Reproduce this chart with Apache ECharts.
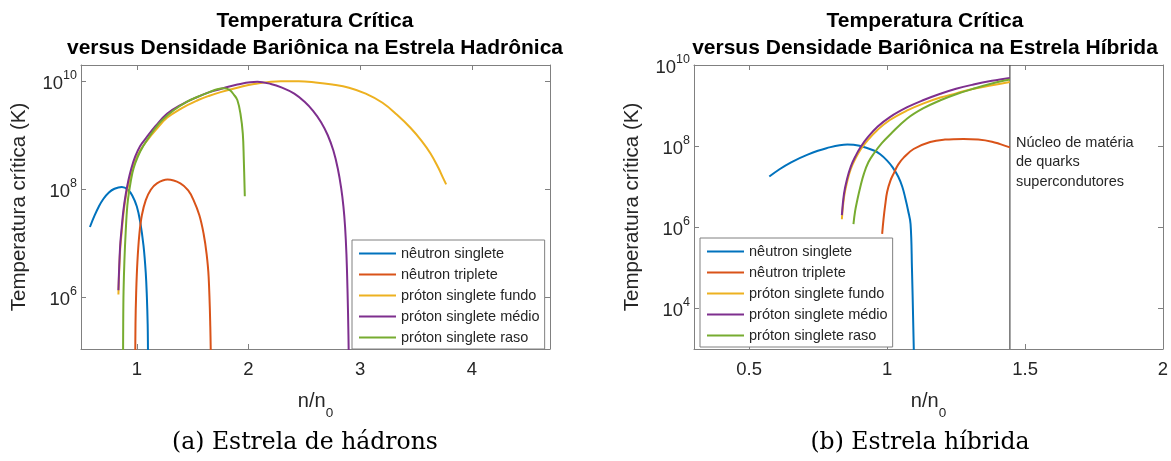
<!DOCTYPE html>
<html>
<head>
<meta charset="utf-8">
<script src="https://cdn.jsdelivr.net/npm/echarts@6/dist/echarts.min.js"></script>
<style>
  html, body { margin: 0; padding: 0; background: #ffffff; }
  #chart { width: 1171px; height: 461px; }
</style>
</head>
<body>
<div id="chart"></div>
<script>
// ---- series names and colours ----
const seriesNames = ['nêutron singlete', 'nêutron triplete', 'próton singlete fundo', 'próton singlete médio', 'próton singlete raso'];
const seriesColors = ['#0072BD', '#D95319', '#EDB120', '#7E2F8E', '#77AC30'];

// ---- hadronic star: [n/n0, Tc (K)] ----
const hadNeutronSinglet = [[0.58,2.0e7],[0.62,3.2e7],[0.66,4.8e7],[0.70,6.6e7],[0.75,8.7e7],[0.80,1.02e8],[0.865,1.10e8],[0.92,9.8e7],[0.96,7.6e7],[1.00,4.8e7],[1.03,2.5e7],[1.06,8.9e6],[1.08,2.8e6],[1.09,1.0e6],[1.097,3.2e5],[1.10,1.0e5],[1.103,3.2e4]];
const hadNeutronTriplet = [[0.985,3.0e4],[0.988,3.2e5],[0.994,1.2e6],[1.005,4.5e6],[1.023,1.5e7],[1.045,3.3e7],[1.08,6.3e7],[1.125,9.8e7],[1.18,1.29e8],[1.275,1.51e8],[1.39,1.29e8],[1.46,9.5e7],[1.508,6.3e7],[1.56,3.3e7],[1.598,1.5e7],[1.625,6.3e6],[1.643,2.4e6],[1.658,2.8e5],[1.665,3.0e4]];
const hadProtonDeep = [[0.835,1.12e6],[0.85,7.1e6],[0.865,1.66e7],[0.88,3.5e7],[0.90,7.1e7],[0.925,1.26e8],[0.95,2.0e8],[0.985,3.3e8],[1.03,5.2e8],[1.09,7.9e8],[1.17,1.26e9],[1.27,2.1e9],[1.40,3.16e9],[1.54,4.4e9],[1.65,5.4e9],[1.75,6.3e9],[1.90,7.6e9],[2.05,8.9e9],[2.29,1.0e10],[2.45,1.0e10],[2.6,9.5e9],[2.75,8.7e9],[2.9,7.6e9],[3.05,5.9e9],[3.2,4.0e9],[3.33,2.4e9],[3.45,1.38e9],[3.55,7.9e8],[3.63,4.6e8],[3.7,2.5e8],[3.74,1.66e8],[3.77,1.23e8]];
const hadProtonMid = [[0.835,1.35e6],[0.85,8.5e6],[0.865,2.0e7],[0.88,4.1e7],[0.90,7.9e7],[0.925,1.48e8],[0.95,2.4e8],[0.985,4.0e8],[1.03,6.3e8],[1.09,9.3e8],[1.17,1.5e9],[1.27,2.5e9],[1.40,3.7e9],[1.54,5.1e9],[1.65,6.3e9],[1.75,7.2e9],[1.90,8.7e9],[2.08,9.8e9],[2.2,8.9e9],[2.3,7.6e9],[2.41,5.9e9],[2.5,4.2e9],[2.58,2.8e9],[2.65,1.74e9],[2.71,1.0e9],[2.76,5.2e8],[2.80,2.4e8],[2.83,1.05e8],[2.85,4.8e7],[2.865,2.0e7],[2.877,6.3e6],[2.887,1.26e6],[2.895,2.0e5],[2.90,3.2e4]];
const hadProtonShallow = [[0.876,3.2e4],[0.878,3.2e5],[0.881,1.26e6],[0.889,4.9e6],[0.90,1.58e7],[0.915,5.0e7],[0.934,1.0e8],[0.96,2.0e8],[0.985,3.0e8],[1.03,5.0e8],[1.09,8.1e8],[1.2,1.66e9],[1.33,2.9e9],[1.45,4.2e9],[1.54,5.1e9],[1.65,6.3e9],[1.72,7.1e9],[1.78,7.4e9],[1.83,6.9e9],[1.87,5.6e9],[1.90,4.5e9],[1.928,2.5e9],[1.949,1.07e9],[1.958,3.5e8],[1.967,7.4e7]];

// ---- hybrid star: [n/n0, Tc (K)] ----
const hybNeutronSinglet = [[0.573,1.78e7],[0.61,2.7e7],[0.652,4.0e7],[0.712,6.2e7],[0.78,8.9e7],[0.856,1.1e8],[0.90,1.02e8],[0.952,7.8e7],[0.975,6.3e7],[1.0,4.4e7],[1.02,3.0e7],[1.04,1.78e7],[1.055,1.0e7],[1.066,5.2e6],[1.076,2.6e6],[1.085,1.2e6],[1.09,1.0e5],[1.097,7.9e2]];
const hybNeutronTriplet = [[0.982,6.9e5],[0.987,1.58e6],[0.993,3.5e6],[1.0,7.4e6],[1.012,1.41e7],[1.025,2.2e7],[1.04,3.5e7],[1.06,5.2e7],[1.096,8.5e7],[1.156,1.26e8],[1.21,1.45e8],[1.277,1.51e8],[1.33,1.45e8],[1.38,1.29e8],[1.41,1.12e8],[1.445,9.3e7]];
const hybProtonDeep = [[0.836,1.58e6],[0.844,5.6e6],[0.855,1.32e7],[0.868,2.7e7],[0.885,4.9e7],[0.904,8.3e7],[0.93,1.41e8],[0.965,2.5e8],[1.01,4.4e8],[1.073,7.6e8],[1.13,1.12e9],[1.193,1.58e9],[1.25,2.0e9],[1.313,2.6e9],[1.38,3.16e9],[1.445,3.8e9]];
const hybProtonMid = [[0.836,2.0e6],[0.844,6.9e6],[0.855,1.58e7],[0.868,3.1e7],[0.885,5.6e7],[0.904,9.5e7],[0.93,1.66e8],[0.965,3.0e8],[1.01,5.2e8],[1.073,9.1e8],[1.13,1.35e9],[1.193,1.95e9],[1.25,2.6e9],[1.313,3.3e9],[1.38,4.07e9],[1.445,4.8e9]];
const hybProtonShallow = [[0.878,1.2e6],[0.884,2.5e6],[0.892,4.7e6],[0.903,1.0e7],[0.916,2.1e7],[0.932,4.0e7],[0.952,6.6e7],[0.98,1.17e8],[1.013,2.0e8],[1.073,4.8e8],[1.13,8.5e8],[1.193,1.35e9],[1.25,1.9e9],[1.313,2.6e9],[1.38,3.5e9],[1.445,4.4e9]];
// boundary of the superconducting quark-matter core
const quarkCoreBoundary = [[1.445,1e3],[1.445,1e10]];

// ---- axis ranges and tick values ----
const hadXRange = [0.5, 4.7];
const hadYRange = [1.1e5, 2e10];
const hybXRange = [0.3, 2];
const hybYRange = [1e3, 1e10];
const hadXTicks = [1, 2, 3, 4];
const hadYTicks = [1e6, 1e8, 1e10];
const hybXTicks = [0.5, 1, 1.5, 2];
const hybYTicks = [1e4, 1e6, 1e8, 1e10];

// ---- texts ----
const titleHad = 'Temperatura Crítica\nversus Densidade Bariônica na Estrela Hadrônica';
const titleHyb = 'Temperatura Crítica\nversus Densidade Bariônica na Estrela Híbrida';
const yName = 'Temperatura crítica (K)';
const captionHad = '(a) Estrela de hádrons';
const captionHyb = '(b) Estrela híbrida';
const coreNote = 'Núcleo de matéria\nde quarks\nsupercondutores';

const FONT = '"Liberation Sans", Arial, Helvetica, sans-serif';
const AXIS_COLOR = '#808080';
const TEXT_COLOR = '#262626';

const chart = echarts.init(document.getElementById('chart'), null, { renderer: 'canvas' });

function xAxisPair(gridIndex, range, ticks) {
  const common = {
    gridIndex, type: 'value', min: range[0], max: range[1],
    splitLine: { show: false },
    axisLine: { show: true, onZero: false, lineStyle: { color: AXIS_COLOR, width: 1 } },
    axisTick: { show: true, inside: true, length: 5, customValues: ticks, lineStyle: { color: AXIS_COLOR } }
  };
  return [
    Object.assign({}, common, {
      position: 'bottom',
      axisLabel: {
        customValues: ticks, margin: 11, fontSize: 18.5, fontFamily: FONT, color: TEXT_COLOR,
        formatter: v => String(v)
      },
      name: 'n/n{sub|0}',
      nameLocation: 'middle',
      nameGap: 31,
      nameTextStyle: {
        color: TEXT_COLOR,
        rich: {
          sub: { fontSize: 13.5, fontFamily: FONT, color: TEXT_COLOR, lineHeight: 36, verticalAlign: 'bottom' }
        },
        fontSize: 20, fontFamily: FONT, lineHeight: 22, verticalAlign: 'top'
      }
    }),
    Object.assign({}, common, {
      position: 'top',
      axisLabel: { show: false, customValues: ticks }
    })
  ];
}

function yAxisPair(gridIndex, range, ticks) {
  const common = {
    gridIndex, type: 'log', logBase: 10, min: range[0], max: range[1],
    splitLine: { show: false },
    minorTick: { show: false },
    axisLine: { show: true, onZero: false, lineStyle: { color: AXIS_COLOR, width: 1 } },
    axisTick: { show: true, inside: true, length: 5, customValues: ticks, lineStyle: { color: AXIS_COLOR } }
  };
  return [
    Object.assign({}, common, {
      position: 'left',
      axisLabel: {
        customValues: ticks, margin: 4,
        formatter: v => '{b|10}{s|' + Math.round(Math.log10(v)) + '}',
        rich: {
          b: { fontSize: 18.5, fontFamily: FONT, color: TEXT_COLOR, lineHeight: 24, verticalAlign: 'bottom' },
          s: { fontSize: 12.5, fontFamily: FONT, color: TEXT_COLOR, lineHeight: 12, verticalAlign: 'top' }
        }
      },
      name: yName,
      nameLocation: 'middle',
      nameGap: 51,
      nameRotate: 90,
      nameTextStyle: { fontSize: 20.5, fontFamily: FONT, color: TEXT_COLOR }
    }),
    Object.assign({}, common, {
      position: 'right',
      axisLabel: { show: false, customValues: ticks }
    })
  ];
}

function curve(name, data, color, xi, yi) {
  return {
    type: 'line', name, data, xAxisIndex: xi, yAxisIndex: yi,
    symbol: 'none', smooth: 0.4, clip: true,
    lineStyle: { color, width: 2 }, itemStyle: { color },
    emphasis: { disabled: true }, z: 3
  };
}

function legendAt(left, top) {
  return {
    data: seriesNames, orient: 'vertical', left, top,
    itemWidth: 37, itemHeight: 14, itemGap: 6,
    padding: [6, 5, 4, 6],
    borderColor: AXIS_COLOR, borderWidth: 1, backgroundColor: '#ffffff',
    itemStyle: { opacity: 0 },
    lineStyle: { width: 2 },
    textStyle: { fontSize: 14.5, fontFamily: FONT, color: TEXT_COLOR },
    selectedMode: false
  };
}

const hadSets = [hadNeutronSinglet, hadNeutronTriplet, hadProtonDeep, hadProtonMid, hadProtonShallow];
const hybSets = [hybNeutronSinglet, hybNeutronTriplet, hybProtonDeep, hybProtonMid, hybProtonShallow];

const series = [];
hadSets.forEach((d, i) => series.push(curve(seriesNames[i], d, seriesColors[i], 0, 0)));
hybSets.forEach((d, i) => series.push(curve(seriesNames[i], d, seriesColors[i], 2, 2)));
series.push({
  type: 'line', name: 'quark core', data: quarkCoreBoundary, xAxisIndex: 2, yAxisIndex: 2,
  symbol: 'none', silent: true, lineStyle: { color: '#4d4d4d', width: 1.2 }, z: 2
});

const option = {
  backgroundColor: '#ffffff',
  animation: false,
  grid: [
    { left: 81, top: 65, width: 469, height: 284, outerBoundsMode: 'none', containLabel: false },
    { left: 694, top: 65, width: 469, height: 284, outerBoundsMode: 'none', containLabel: false }
  ],
  xAxis: [...xAxisPair(0, hadXRange, hadXTicks), ...xAxisPair(1, hybXRange, hybXTicks)],
  yAxis: [...yAxisPair(0, hadYRange, hadYTicks), ...yAxisPair(1, hybYRange, hybYTicks)],
  legend: [legendAt(352, 240), legendAt(700, 238)],
  series,
  graphic: [
    { type: 'text', x: 315, y: 8, silent: true,
      style: { text: titleHad, font: 'bold 21px ' + FONT, fill: '#000000', align: 'center', lineHeight: 27 } },
    { type: 'text', x: 925, y: 8, silent: true,
      style: { text: titleHyb, font: 'bold 21px ' + FONT, fill: '#000000', align: 'center', lineHeight: 27 } },
    { type: 'text', x: 1016, y: 133, silent: true,
      style: { text: coreNote, font: '14.5px ' + FONT, fill: TEXT_COLOR, align: 'left', lineHeight: 19.5 } },
    { type: 'text', x: 305, y: 431, silent: true,
      style: { text: captionHad, font: '23.5px "DejaVu Serif", serif', fill: '#000000', align: 'center' } },
    { type: 'text', x: 920, y: 431, silent: true,
      style: { text: captionHyb, font: '23.5px "DejaVu Serif", serif', fill: '#000000', align: 'center' } }
  ]
};

chart.setOption(option);
</script>
</body>
</html>
